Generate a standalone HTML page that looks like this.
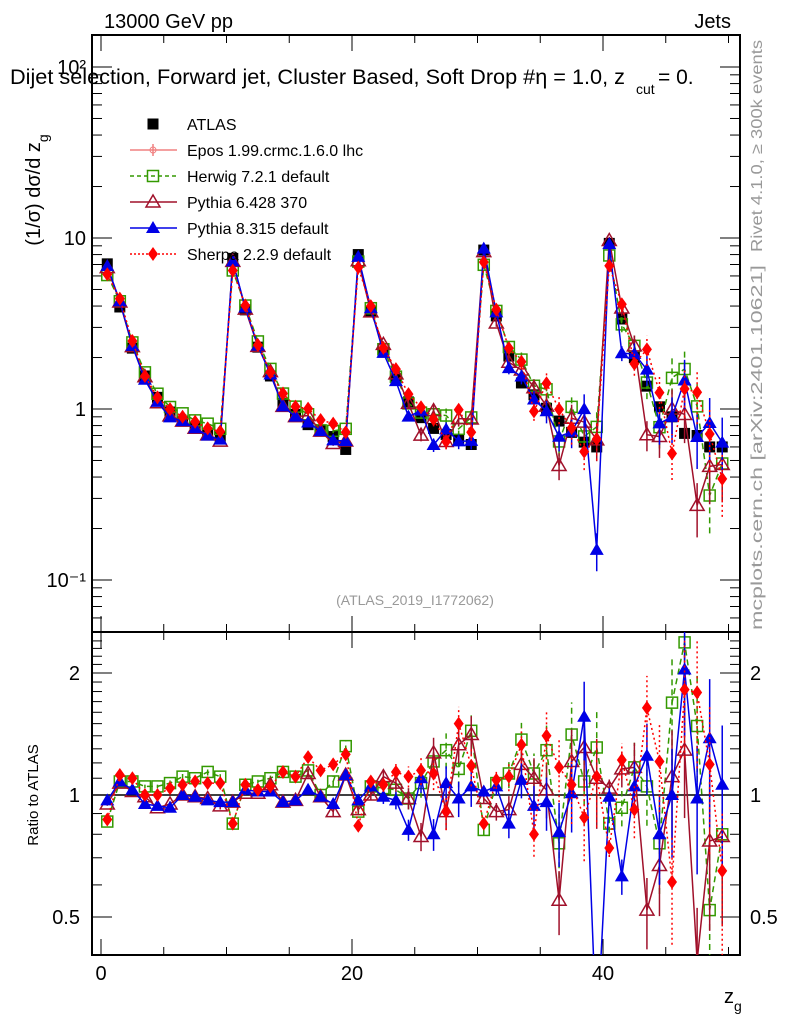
<!DOCTYPE html>
<html><head><meta charset="utf-8"><style>
html,body{margin:0;padding:0;background:#fff;overflow:hidden;width:786px;height:1024px;}
svg{font-family:"Liberation Sans",sans-serif;display:block;}
</style></head><body>
<svg id="c" width="786" height="1024" xmlns="http://www.w3.org/2000/svg">
<defs>
<clipPath id="cm"><rect x="92" y="35" width="648" height="597"/></clipPath>
<clipPath id="cr"><rect x="92" y="632" width="648" height="323"/></clipPath>
</defs>
<rect x="92" y="35" width="648" height="597" fill="none" stroke="#000" stroke-width="2"/>
<rect x="92" y="632" width="648" height="323" fill="none" stroke="#000" stroke-width="2"/>
<g id="axes"></g>
<g id="mainMarks" clip-path="url(#cm)"></g>
<g id="ratioMarks" clip-path="url(#cr)"></g>
<text x="104" y="28" font-size="20">13000 GeV pp</text>
<text x="731" y="28" font-size="20" text-anchor="end">Jets</text>
<g>
<text x="10" y="84" font-size="21" textLength="615" lengthAdjust="spacingAndGlyphs">Dijet selection, Forward jet, Cluster Based, Soft Drop #η = 1.0, z</text>
<text x="636" y="94" font-size="14">cut</text>
<text x="658" y="84" font-size="21">= 0.</text>
</g>
<text transform="translate(40,190) rotate(-90)" font-size="20" text-anchor="middle">(1/σ) dσ/d z<tspan font-size="14" dy="8">g</tspan></text>
<text transform="translate(38,795) rotate(-90)" font-size="15" text-anchor="middle">Ratio to ATLAS</text>
<text x="724" y="1003" font-size="20">z<tspan font-size="14" dy="8">g</tspan></text>
<text x="415" y="605" font-size="14" fill="#999" text-anchor="middle">(ATLAS_2019_I1772062)</text>
<text transform="translate(762,252) rotate(-90)" font-size="16" fill="#999" textLength="212" lengthAdjust="spacingAndGlyphs">Rivet 4.1.0, ≥ 300k events</text>
<text transform="translate(762,630) rotate(-90)" font-size="16" fill="#999" textLength="365" lengthAdjust="spacingAndGlyphs">mcplots.cern.ch [arXiv:2401.10621]</text>
<g id="legend"></g>
</svg>
<script>
const atlas=[7.06,3.95,2.27,1.56,1.17,0.96,0.85,0.78,0.72,0.69,
7.6,3.8,2.3,1.56,1.08,0.93,0.81,0.75,0.69,0.58,
8.0,3.7,2.15,1.5,1.1,0.89,0.77,0.71,0.66,0.62,
8.5,3.5,2.04,1.42,1.21,1.01,0.85,0.73,0.64,0.6,
9.3,3.36,2.0,1.36,1.03,0.9,0.72,0.7,0.6,0.6];
const herwigR=[0.86,1.08,1.08,1.05,1.05,1.07,1.11,1.10,1.14,1.11,
0.85,1.06,1.08,1.10,1.14,1.11,1.15,1.0,1.08,1.32,
0.91,1.05,1.04,1.03,0.98,1.07,1.21,1.29,1.16,1.44,
0.82,1.07,1.13,1.37,1.13,1.29,0.76,1.41,1.08,1.31,
0.85,0.93,1.17,1.05,0.76,1.69,2.38,1.48,0.52,0.80];
const pythia6R=[0.95,1.07,1.02,0.99,0.93,0.95,1.0,0.99,0.98,0.94,
0.96,1.01,1.01,1.06,0.96,0.97,1.13,0.99,0.91,1.12,
0.92,1.0,1.11,1.07,0.98,0.79,1.27,0.91,1.33,1.41,
0.98,0.91,0.92,1.19,1.10,1.03,0.55,1.21,1.31,1.10,
1.04,1.16,1.17,0.52,0.67,1.11,1.29,0.39,0.77,0.79];
const pythia8R=[0.97,1.08,1.03,0.95,0.94,0.93,1.0,0.99,0.97,0.96,
0.96,1.03,1.02,1.02,0.96,0.97,1.03,0.99,0.95,1.12,
0.97,1.05,0.99,0.97,0.82,1.10,0.80,1.07,0.98,1.05,
1.02,1.05,0.85,1.09,0.94,0.96,0.81,1.01,1.56,0.25,
0.99,0.63,1.05,1.25,0.80,1.0,2.04,0.98,1.38,1.06];
const sherpaR=[0.87,1.12,1.10,1.0,1.0,1.04,1.06,1.08,1.07,1.07,
0.85,1.06,1.03,1.05,1.14,1.11,1.24,1.15,1.19,1.26,
0.84,1.08,1.06,1.14,1.11,1.15,1.13,0.91,1.50,1.18,
0.85,1.09,1.11,1.33,0.80,1.40,1.17,1.06,0.88,1.11,
0.74,1.22,0.92,1.64,1.21,0.61,1.82,1.79,1.19,0.65];
const relErr=[0.01,0.01,0.01,0.01,0.01,0.015,0.015,0.015,0.02,0.02,
0.01,0.01,0.01,0.015,0.02,0.02,0.025,0.025,0.03,0.03,
0.02,0.03,0.04,0.05,0.06,0.08,0.09,0.1,0.1,0.11,
0.03,0.05,0.08,0.1,0.12,0.15,0.18,0.2,0.22,0.25,
0.05,0.1,0.15,0.2,0.25,0.3,0.32,0.35,0.4,0.4];
const xTickLabels=[0,20,40];
const yTickLabels=["10","1","10⁻¹"];
const ratioTickVals=[0.5,1,2];

const NS="http://www.w3.org/2000/svg";
const X=v=>101+12.55*v;
const Y=v=>409-171*Math.log10(v);
const R=r=>795-122*Math.log2(r);
function mk(parent,tag,attrs){const e=document.createElementNS(NS,tag);for(const k in attrs)e.setAttribute(k,attrs[k]);parent.appendChild(e);return e;}
const axes=document.getElementById('axes');
for(let v=0;v<=50;v+=5){
  const len=(v%20===0)?16:8;
  for(const [y0,d] of [[632,-1],[35,1],[955,-1],[632,1]]){
    const t=mk(axes,'line',{x1:X(v),x2:X(v),y1:y0,y2:y0+d*len,stroke:'#000','stroke-width':1});
    
    
  }
}
xTickLabels.forEach(v=>{const t=mk(axes,'text',{x:X(v),y:980,'font-size':20,'text-anchor':'middle'});t.textContent=v;

});
for(let e=-2;e<=2;e++){for(let m=1;m<10;m++){const v=m*Math.pow(10,e);const y=Y(v);if(y<35||y>632)continue;
  const len=m===1?20:10;
  for(const [x0,d] of [[92,1],[740,-1]]){const t=mk(axes,'line',{x1:x0,x2:x0+d*len,y1:y,y2:y,stroke:'#000','stroke-width':1});
  
  }
}}
[[10,"10"],[1,"1"],[0.1,"10⁻¹"],[100,"10²"]].forEach(([v,s],i)=>{const t=mk(axes,'text',{x:86,y:Y(v)+7,'font-size':20,'text-anchor':'end'});t.textContent=s;

});
for(let r=0.4;r<=2.5;r+=0.1){const y=R(r);if(y<632||y>955)continue;
  const major=Math.abs(r-0.5)<1e-6||Math.abs(r-1)<1e-6||Math.abs(r-2)<1e-6;
  const len=major?20:10;
  for(const [x0,d] of [[92,1],[740,-1]]){const t=mk(axes,'line',{x1:x0,x2:x0+d*len,y1:y,y2:y,stroke:'#000','stroke-width':1});
  
  }
}
ratioTickVals.forEach(v=>{for(const [x,a] of [[80,'end'],[750,'start']]){const t=mk(axes,'text',{x:x,y:R(v)+7,'font-size':20,'text-anchor':a});t.textContent=v;

}});
const one=mk(axes,'line',{x1:92,x2:740,y1:R(1),y2:R(1),stroke:'#000','stroke-width':1.5});



function marker(g,type,x,y,color){
  let e;
  if(type==='sq') e=mk(g,'rect',{x:x-5.5,y:y-5.5,width:11,height:11,fill:color});
  if(type==='osq') e=mk(g,'rect',{x:x-5.5,y:y-5.5,width:11,height:11,fill:'none',stroke:color,'stroke-width':1.5});
  if(type==='otri') e=mk(g,'polygon',{points:`${x},${y-7} ${x-7},${y+5} ${x+7},${y+5}`,fill:'none',stroke:color,'stroke-width':1.5});
  if(type==='tri') e=mk(g,'polygon',{points:`${x},${y-7} ${x-7},${y+5} ${x+7},${y+5}`,fill:color});
  if(type==='dia') e=mk(g,'polygon',{points:`${x},${y-7} ${x-5},${y} ${x},${y+7} ${x+5},${y}`,fill:color});
  return e;
}
const models=[
 {name:'herwig',r:herwigR,color:'#339900',type:'osq',dash:'6,4'},
 {name:'pythia6',r:pythia6R,color:'#a0102a',type:'otri',dash:''},
 {name:'pythia8',r:pythia8R,color:'#0000e6',type:'tri',dash:''},
 {name:'sherpa',r:sherpaR,color:'#ff0000',type:'dia',dash:'2,3'}
];
const gm=document.getElementById('mainMarks'), gr=document.getElementById('ratioMarks');
const ag=mk(gm,'g',{});


atlas.forEach((v,i)=>{const m=marker(ag,'sq',X(i+0.5),Y(v),'#000');

});
models.forEach(md=>{
  for(const [g,fy,isR] of [[gm,Y,false],[gr,R,true]]){
    const sg=mk(g,'g',{});
    
    
    const pts=md.r.map((r,i)=>{const v=isR?r:r*atlas[i];return [X(i+0.5),fy(v),v];});
    const pl=mk(sg,'polyline',{points:pts.map(p=>p[0]+','+p[1]).join(' '),fill:'none',stroke:md.color,'stroke-width':1.5,'stroke-dasharray':md.dash});
    
    
    pts.forEach((p,i)=>{const e=relErr[i];const lo=Math.max(p[2]*(1-e),1e-4),hi=p[2]*(1+e);
      const eb=mk(sg,'line',{x1:p[0],x2:p[0],y1:fy(lo),y2:fy(hi),stroke:md.color,'stroke-width':1.5,'stroke-dasharray':md.dash});
      
      
      const m=marker(sg,md.type,p[0],p[1],md.color);
      
      });
  }
});
const lg=document.getElementById('legend');


const legendItems=[['ATLAS','#000','sq',''],['Epos 1.99.crmc.1.6.0 lhc','#f08080','epos',''],['Herwig 7.2.1 default','#339900','osq','4,3'],['Pythia 6.428 370','#a0102a','otri',''],['Pythia 8.315 default','#0000e6','tri',''],['Sherpa 2.2.9 default','#ff0000','dia','2,2']];
legendItems.forEach((it,i)=>{const y=124+26*i;
  const eg=mk(lg,'g',{});
  
  
  if(i>0){mk(eg,'line',{x1:130,x2:177,y1:y,y2:y,stroke:it[1],'stroke-width':1.5,'stroke-dasharray':it[3]});}
  if(it[2]==='epos'){mk(eg,'line',{x1:153,x2:153,y1:y-6,y2:y+6,stroke:it[1],'stroke-width':1.5});mk(eg,'circle',{cx:153,cy:y,r:3,fill:'none',stroke:it[1]});}
  else marker(eg,it[2],153,y,it[1]);
  const t=mk(eg,'text',{x:187,y:y+6,'font-size':16});t.textContent=it[0];
});
</script>
</body></html>
